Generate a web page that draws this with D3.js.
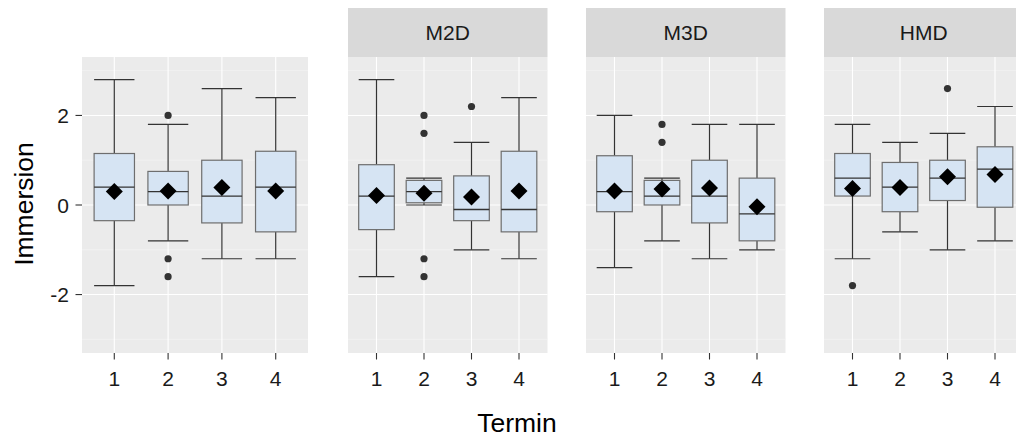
<!DOCTYPE html>
<html>
<head>
<meta charset="utf-8">
<script src="https://cdn.jsdelivr.net/npm/d3@7"></script>
<style>
  html, body { margin: 0; padding: 0; background: #fff; }
  svg { display: block; font-family: "Liberation Sans", Arial, Helvetica, sans-serif; }
</style>
</head>
<body>
<svg id="chart" width="1016" height="438"></svg>
<script>
// Facet labels (first panel shows all devices together, no strip)
const stripLabels = [null, "M2D", "M3D", "HMD"];
const termine = ["1", "2", "3", "4"];
const yTicks = [-2, 0, 2];

// Box statistics per panel, one entry per Termin
const whiskerLow = [
  [-1.8, -0.8, -1.2, -1.2],
  [-1.6, 0.0, -1.0, -1.2],
  [-1.4, -0.8, -1.2, -1.0],
  [-1.2, -0.6, -1.0, -0.8]
];
const q1 = [
  [-0.35, 0.0, -0.4, -0.6],
  [-0.55, 0.05, -0.35, -0.6],
  [-0.15, 0.0, -0.4, -0.8],
  [0.2, -0.15, 0.1, -0.05]
];
const medians = [
  [0.4, 0.3, 0.2, 0.4],
  [0.2, 0.3, -0.1, -0.1],
  [0.3, 0.2, 0.2, -0.2],
  [0.6, 0.4, 0.6, 0.8]
];
const q3 = [
  [1.15, 0.75, 1.0, 1.2],
  [0.9, 0.55, 0.65, 1.2],
  [1.1, 0.55, 1.0, 0.6],
  [1.15, 0.95, 1.0, 1.3]
];
const whiskerHigh = [
  [2.8, 1.8, 2.6, 2.4],
  [2.8, 0.6, 1.4, 2.4],
  [2.0, 0.6, 1.8, 1.8],
  [1.8, 1.4, 1.6, 2.2]
];
const means = [
  [0.3, 0.31, 0.39, 0.31],
  [0.21, 0.26, 0.18, 0.31],
  [0.31, 0.36, 0.38, -0.04],
  [0.37, 0.39, 0.63, 0.68]
];
const outliers = [
  [[], [2.0, -1.2, -1.6], [], []],
  [[], [2.0, 1.6, -1.2, -1.6], [2.2], []],
  [[], [1.8, 1.4], [], []],
  [[-1.8], [], [2.6], []]
];

// Layout
const panelX = [[82, 308], [348, 547.5], [586, 785.5], [824, 1023.5]];
const panelTop = 57, panelBottom = 353;
const stripTop = 8;

const svg = d3.select("#chart");
const y = d3.scaleLinear().domain([-3.305, 3.305]).range([panelBottom, panelTop]);

const fontTick = 21, fontTitle = 26.5;

panelX.forEach(([x0, x1], p) => {
  const x = d3.scalePoint().domain(termine).range([x0, x1]).padding(0.6);
  const bw = x.step() * 0.75;
  const g = svg.append("g");

  // Panel background
  g.append("rect").attr("x", x0).attr("y", panelTop)
    .attr("width", x1 - x0).attr("height", panelBottom - panelTop)
    .attr("fill", "#EBEBEB");

  // Minor horizontal grid
  [-3, -1, 1, 3].forEach(v => {
    g.append("line").attr("x1", x0).attr("x2", x1)
      .attr("y1", y(v)).attr("y2", y(v))
      .attr("stroke", "#F5F5F5").attr("stroke-width", 0.6);
  });
  // Major horizontal grid
  yTicks.forEach(v => {
    g.append("line").attr("x1", x0).attr("x2", x1)
      .attr("y1", y(v)).attr("y2", y(v))
      .attr("stroke", "#FFFFFF").attr("stroke-width", 1.1);
  });
  // Vertical grid
  termine.forEach(t => {
    g.append("line").attr("x1", x(t)).attr("x2", x(t))
      .attr("y1", panelTop).attr("y2", panelBottom)
      .attr("stroke", "#FFFFFF").attr("stroke-width", 1.1);
  });

  // Strip
  if (stripLabels[p]) {
    g.append("rect").attr("x", x0).attr("y", stripTop)
      .attr("width", x1 - x0).attr("height", panelTop - stripTop)
      .attr("fill", "#D9D9D9");
    g.append("text").attr("x", (x0 + x1) / 2).attr("y", (stripTop + panelTop) / 2)
      .attr("text-anchor", "middle").attr("dominant-baseline", "central")
      .attr("font-size", fontTick).attr("fill", "#1A1A1A")
      .text(stripLabels[p]);
  }

  // Boxes
  termine.forEach((t, i) => {
    const cx = x(t);
    const lo = whiskerLow[p][i], hi = whiskerHigh[p][i];
    // whiskers
    g.append("line").attr("x1", cx).attr("x2", cx)
      .attr("y1", y(hi)).attr("y2", y(q3[p][i]))
      .attr("stroke", "#333").attr("stroke-width", 1.2);
    g.append("line").attr("x1", cx).attr("x2", cx)
      .attr("y1", y(q1[p][i])).attr("y2", y(lo))
      .attr("stroke", "#333").attr("stroke-width", 1.2);
    // whisker caps
    [lo, hi].forEach(v => {
      g.append("line").attr("x1", cx - bw / 2).attr("x2", cx + bw / 2)
        .attr("y1", y(v)).attr("y2", y(v))
        .attr("stroke", "#333").attr("stroke-width", 1.2);
    });
    // box
    g.append("rect").attr("x", cx - bw / 2).attr("y", y(q3[p][i]))
      .attr("width", bw).attr("height", y(q1[p][i]) - y(q3[p][i]))
      .attr("fill", "#D6E4F3").attr("stroke", "#6E6E6E").attr("stroke-width", 1.2);
    // median
    g.append("line").attr("x1", cx - bw / 2).attr("x2", cx + bw / 2)
      .attr("y1", y(medians[p][i])).attr("y2", y(medians[p][i]))
      .attr("stroke", "#333").attr("stroke-width", 1.3);
    // outliers
    outliers[p][i].forEach(v => {
      g.append("circle").attr("cx", cx).attr("cy", y(v)).attr("r", 3.6)
        .attr("fill", "#333");
    });
    // mean diamond
    const my = y(means[p][i]), s = 8.5;
    g.append("path")
      .attr("d", `M${cx},${my - s}L${cx + s},${my}L${cx},${my + s}L${cx - s},${my}Z`)
      .attr("fill", "#000");
  });

  // X axis ticks and labels
  termine.forEach(t => {
    g.append("line").attr("x1", x(t)).attr("x2", x(t))
      .attr("y1", panelBottom).attr("y2", panelBottom + 6.5)
      .attr("stroke", "#333").attr("stroke-width", 1.1);
    g.append("text").attr("x", x(t)).attr("y", 386)
      .attr("text-anchor", "middle").attr("font-size", fontTick)
      .attr("fill", "#1A1A1A").text(t);
  });

  // Y axis on first panel only
  if (p === 0) {
    yTicks.forEach(v => {
      g.append("line").attr("x1", x0 - 6.5).attr("x2", x0)
        .attr("y1", y(v)).attr("y2", y(v))
        .attr("stroke", "#333").attr("stroke-width", 1.1);
      g.append("text").attr("x", x0 - 13).attr("y", y(v))
        .attr("text-anchor", "end").attr("dominant-baseline", "central")
        .attr("font-size", fontTick).attr("fill", "#1A1A1A").text(v);
    });
  }
});

// Axis titles
svg.append("text").attr("x", 517).attr("y", 432)
  .attr("text-anchor", "middle").attr("font-size", fontTitle)
  .attr("fill", "#000").text("Termin");
svg.append("text")
  .attr("transform", `translate(33,204) rotate(-90)`)
  .attr("text-anchor", "middle").attr("font-size", fontTitle)
  .attr("fill", "#000").text("Immersion");
</script>
</body>
</html>
